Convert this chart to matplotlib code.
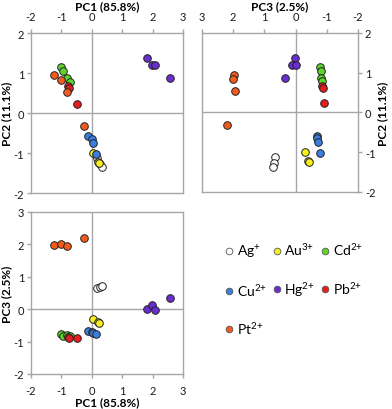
import matplotlib.pyplot as plt
from matplotlib.lines import Line2D

plt.rcParams['font.family'] = ['Lato', 'DejaVu Sans']
plt.rcParams['axes.unicode_minus'] = False
plt.rcParams['mathtext.fontset'] = 'custom'
plt.rcParams['mathtext.rm'] = 'Lato'
plt.rcParams['mathtext.default'] = 'regular'

# scores per metal ion: PC1, PC2, PC3
metals = ['Ag', 'Au', 'Cd', 'Cu', 'Hg', 'Pb', 'Pt']
labels = ['Ag$^{{+}}$', 'Au$^{3{+}}$', 'Cd$^{2{+}}$', 'Cu$^{2{+}}$',
          'Hg$^{2{+}}$', 'Pb$^{2{+}}$', 'Pt$^{2{+}}$']
colors = ['#FFFFFF', '#F7F01A', '#5CD62A', '#3A7FE0', '#6A2ED0', '#E81C1C', '#F25A1E']

pc1 = {
    'Ag': [0.16, 0.27, 0.32],
    'Au': [0.05, 0.20, 0.24],
    'Cd': [-1.02, -0.96, -0.83, -0.72],
    'Cu': [-0.11, 0.0, 0.03, 0.14],
    'Hg': [1.80, 1.98, 2.07, 2.56],
    'Pb': [-0.78, -0.74, -0.50],
    'Pt': [-1.24, -1.02, -0.80, -0.25],
}
pc2 = {
    'Ag': [-1.13, -1.28, -1.36],
    'Au': [-1.00, -1.22, -1.25],
    'Cd': [1.14, 1.05, 0.87, 0.78],
    'Cu': [-0.58, -0.65, -0.75, -1.03],
    'Hg': [1.37, 1.20, 1.20, 0.87],
    'Pb': [0.67, 0.62, 0.23],
    'Pt': [0.95, 0.83, 0.53, -0.32],
}
pc3 = {
    'Ag': [0.65, 0.69, 0.72],
    'Au': [-0.30, -0.39, -0.43],
    'Cd': [-0.78, -0.82, -0.80, -0.83],
    'Cu': [-0.68, -0.70, -0.72, -0.77],
    'Hg': [0.02, 0.13, -0.02, 0.34],
    'Pb': [-0.85, -0.88, -0.90],
    'Pt': [1.97, 2.00, 1.95, 2.20],
}

lab1 = 'PC1 (85.8%)'
lab2 = 'PC2 (11.1%)'
lab3 = 'PC3 (2.5%)'

grey = '#A6A6A6'
fig = plt.figure(figsize=(3.92, 4.10), dpi=100)
ax1 = fig.add_axes([0.0791, 0.5268, 0.3878, 0.3902])
ax2 = fig.add_axes([0.5153, 0.5293, 0.3980, 0.3878])
ax3 = fig.add_axes([0.0791, 0.0854, 0.3878, 0.3951])


def style(ax):
    for s in ax.spines.values():
        s.set_color(grey)
        s.set_linewidth(1.0)
    ax.axhline(0, color=grey, lw=1.0, zorder=1)
    ax.axvline(0, color=grey, lw=1.0, zorder=1)
    ax.tick_params(direction='out', length=3, width=1.0, color=grey,
                   labelsize=8, labelcolor='#1a1a1a')
    ax.tick_params(axis='x', pad=5)
    ax.tick_params(axis='y', pad=2)


def scatter(ax, xs, ys):
    for m, c in zip(metals, colors):
        ax.scatter(xs[m], ys[m], s=30, c=c, edgecolors='#222222',
                   linewidths=0.7, zorder=3)


lf = dict(fontsize=8.5, fontweight='bold')

scatter(ax1, pc1, pc2)
ax1.set_xlim(-2, 3)
ax1.set_ylim(-2, 2)
ax1.xaxis.tick_top()
ax1.xaxis.set_label_position('top')
ax1.set_xlabel(lab1, labelpad=1, **lf)
ax1.set_ylabel(lab2, labelpad=1, **lf)
style(ax1)

scatter(ax2, pc3, pc2)
ax2.set_xlim(3, -2)
ax2.set_ylim(-2, 2)
ax2.xaxis.tick_top()
ax2.xaxis.set_label_position('top')
ax2.yaxis.tick_right()
ax2.yaxis.set_label_position('right')
ax2.set_xlabel(lab3, labelpad=1, **lf)
ax2.set_ylabel(lab2, labelpad=1, **lf)
style(ax2)

scatter(ax3, pc1, pc3)
ax3.set_xlim(-2, 3)
ax3.set_ylim(-2, 3)
ax3.set_xlabel(lab1, labelpad=0, **lf)
ax3.set_ylabel(lab3, labelpad=1, **lf)
style(ax3)

for ax in (ax1, ax2, ax3):
    ax.set_xticks(range(-2, 4))

# legend, column-major order so rows read Ag Au Cd / Cu Hg Pb / Pt
order = [0, 3, 6, 1, 4, 2, 5]
handles = [Line2D([], [], marker='o', ls='', ms=4.8, mfc=colors[i],
                  mec='#555555', mew=0.6) for i in order]
fig.legend(handles, [labels[i] for i in order], ncol=3, frameon=False,
           loc='upper left', bbox_to_anchor=(0.557, 0.4255), fontsize=10,
           borderpad=0, handletextpad=0.25, columnspacing=0.4,
           labelspacing=1.6, handlelength=0.6)

fig.savefig('out.png', dpi=100)
